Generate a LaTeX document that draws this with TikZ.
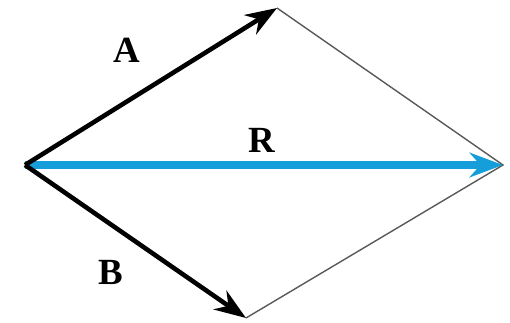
\documentclass[tikz,border=0pt]{standalone}
\usepackage{fontspec}
\setmainfont{Liberation Serif}
\usetikzlibrary{arrows.meta}
\definecolor{azzurro}{RGB}{22,158,218}
\tikzset{
    vettore/.style={line width=2.6pt,-{Stealth[length=18pt,width=13pt]}},
    risultante/.style={line width=5pt,azzurro,-{Stealth[length=19pt,width=14pt]}},
    lato/.style={line width=0.8pt,black!65},
    etichetta/.style={font=\fontsize{21}{24}\selectfont\bfseries}
}
\begin{document}
\begin{tikzpicture}[x=0.02cm,y=-0.02cm]
    \useasboundingbox (0,0) rectangle (510,322);
    %punti
    \coordinate (O) at (25,165);
    \coordinate (A) at (277,8);
    \coordinate (B) at (246,318);
    \coordinate (R) at (503,165);
    %disegno lati
    \draw[lato](A)--(R)--(B);
    %disegno vettori
    \draw[risultante](O)--(R);
    \draw[vettore](O)--(A);
    \draw[vettore](O)--(B);
    %etichette
    \node[etichetta] (lA) at (127,50){A};
    \node[etichetta] (lR) at (262,140){R};
    \node[etichetta] (lB) at (111,272){B};
\end{tikzpicture}
\end{document}
